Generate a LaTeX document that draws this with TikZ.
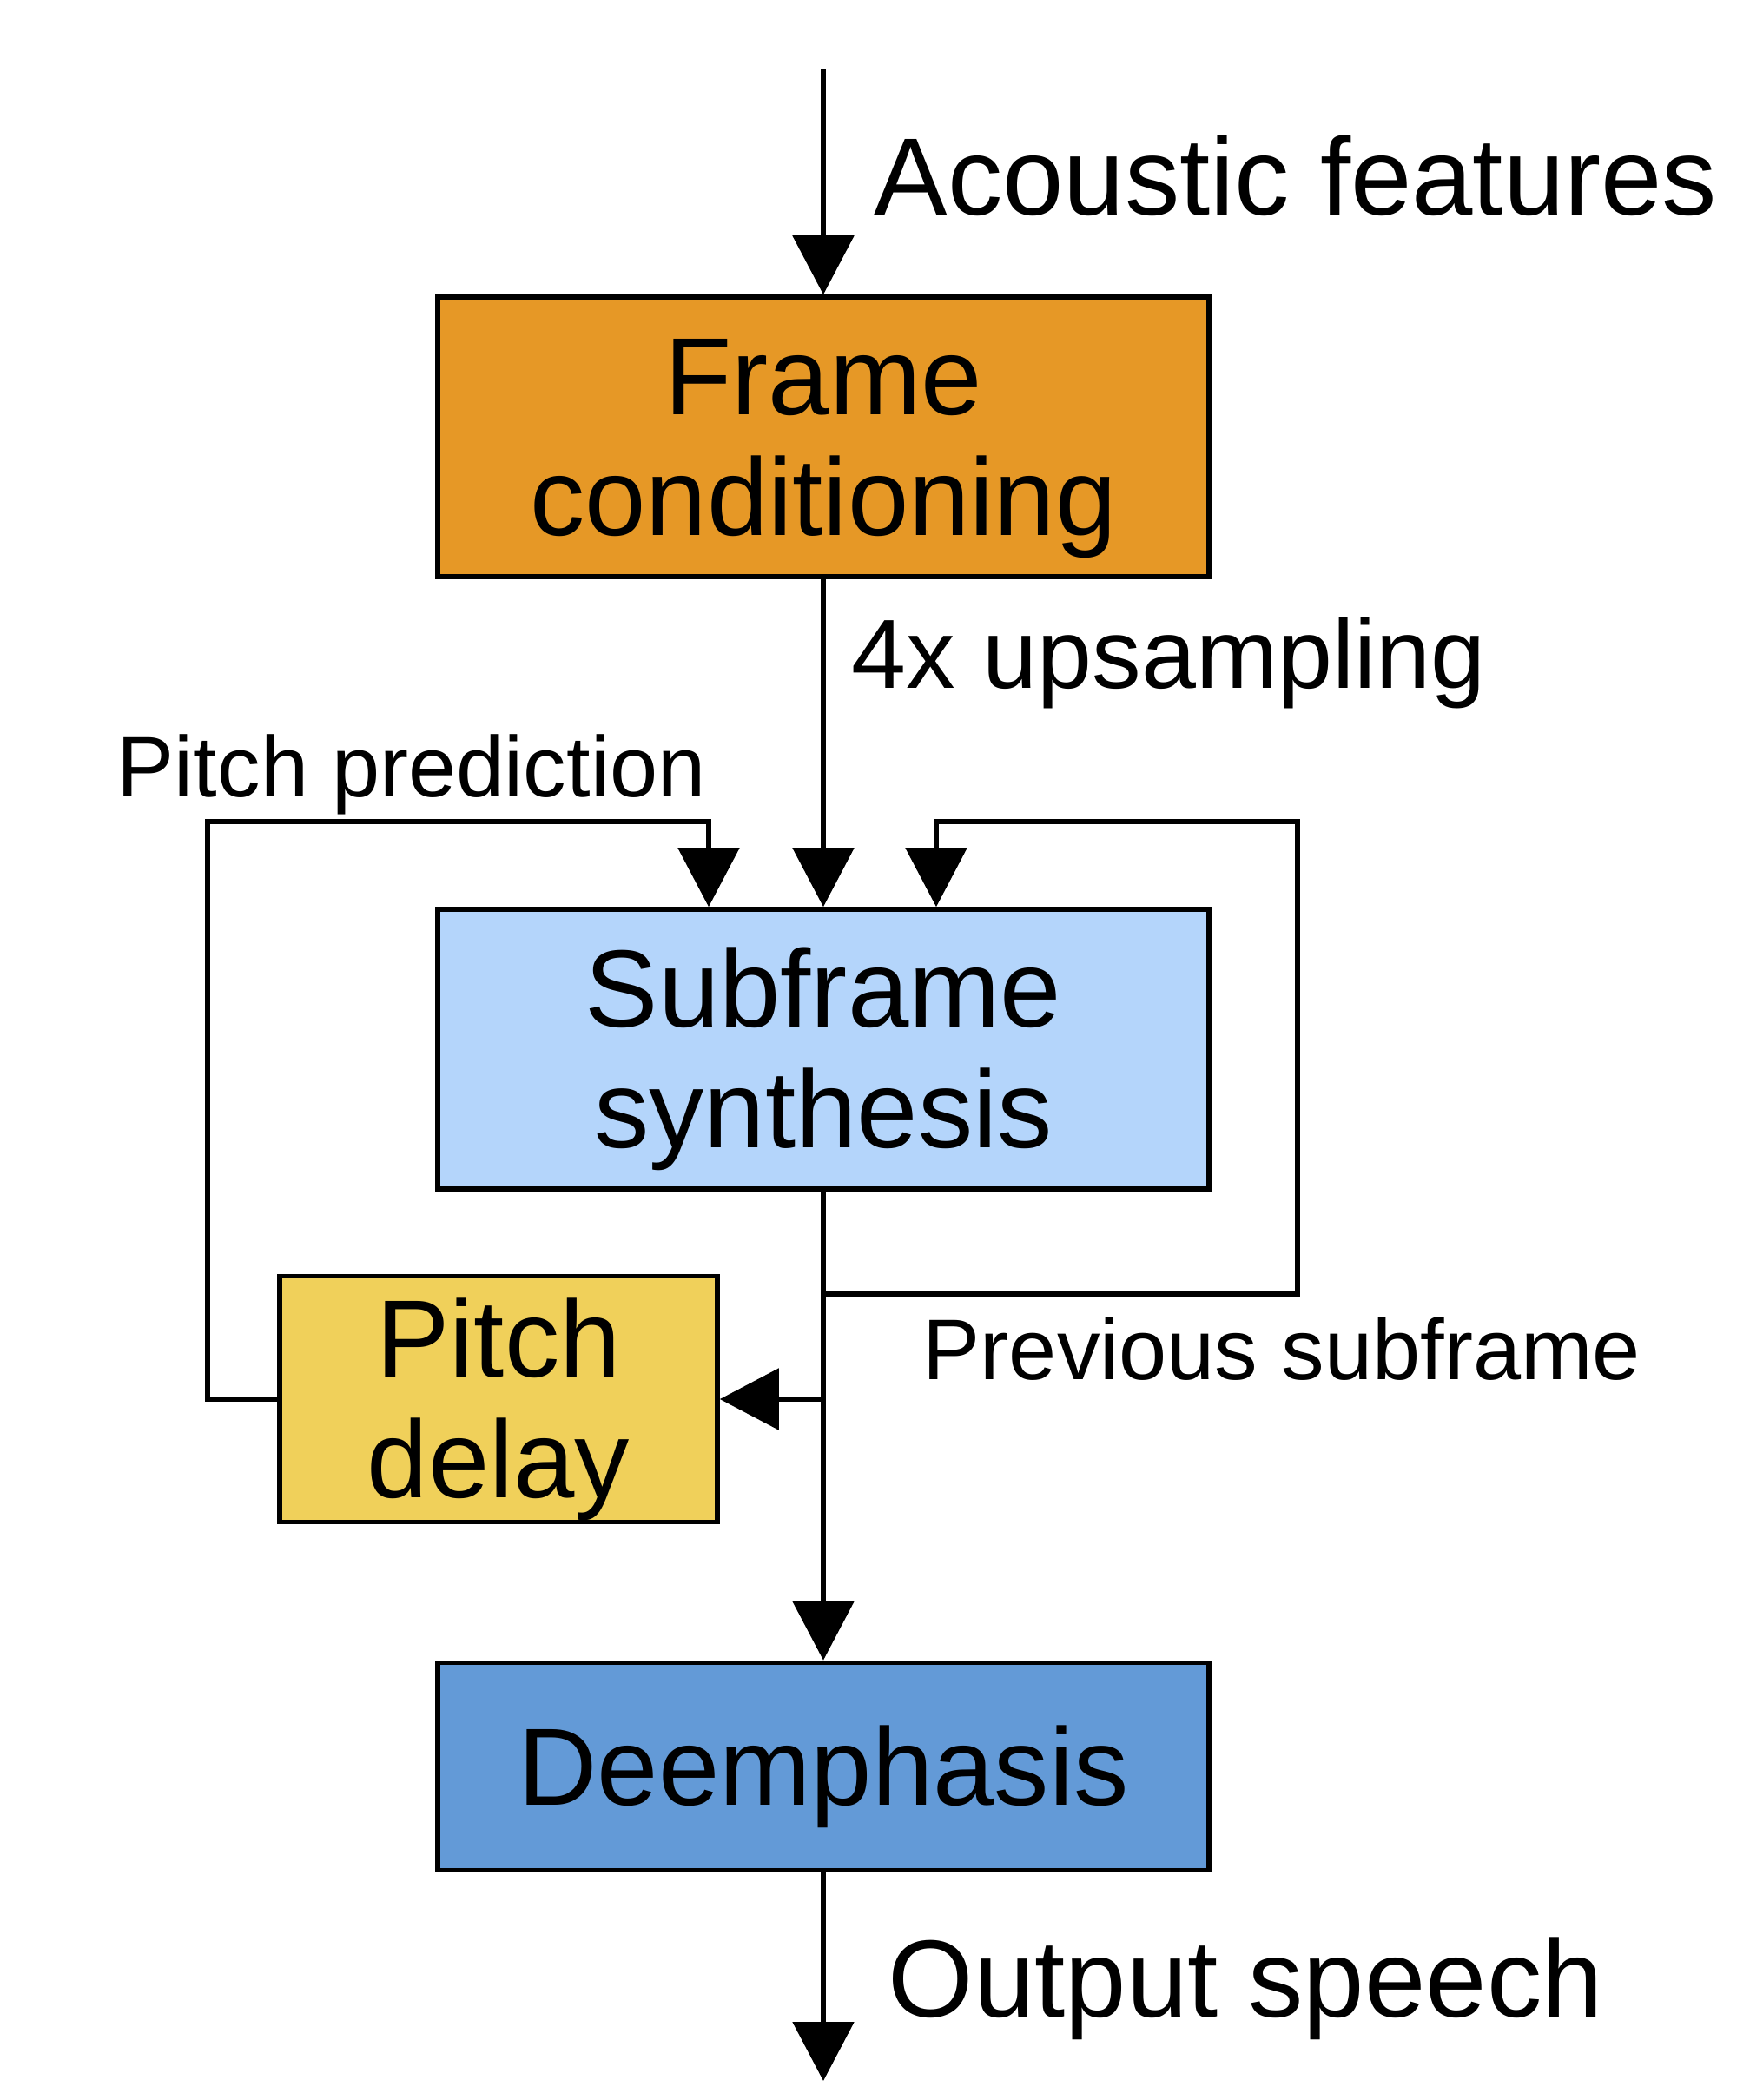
\documentclass[tikz,border=0pt]{standalone}
\usepackage{fontspec}
\setmainfont{Liberation Sans}
\usetikzlibrary{arrows.meta}

\definecolor{frameorange}{RGB}{230,152,38}
\definecolor{subblue}{RGB}{180,213,251}
\definecolor{pitchyellow}{RGB}{240,208,90}
\definecolor{deemblue}{RGB}{99,154,215}

\newcommand{\bigtext}{\fontsize{36}{39.5}\selectfont}
\newcommand{\midtext}{\fontsize{32.2}{36}\selectfont}
\newcommand{\smalltext}{\fontsize{28.2}{32}\selectfont}
\newcommand{\boxstrut}{\rule{0pt}{1.15cm}}

\begin{document}
\begin{tikzpicture}[line width=1.6pt]
      \tikzset{>={Triangle[length=0.68cm,width=0.7cm]}}
      \tikzset{block/.style={draw=black,line width=1.6pt,align=center,inner sep=0pt,font=\bigtext}}
      \tikzset{lbl/.style={anchor=base west,inner sep=0pt}}

      \useasboundingbox (0,0) rectangle (20.15,-24.18);

      \node[block,fill=frameorange,minimum width=8.88cm,minimum height=3.22cm] (FC) at (9.48,-5.03) {\boxstrut Frame\\conditioning};
      \node[block,fill=subblue,minimum width=8.88cm,minimum height=3.22cm] (SF) at (9.48,-12.08) {\boxstrut Subframe\\synthesis};
      \node[block,fill=pitchyellow,minimum width=5.04cm,minimum height=2.83cm] (PD) at (5.74,-16.11) {\boxstrut Pitch\\delay};
      \node[block,fill=deemblue,minimum width=8.88cm,minimum height=2.39cm] (DE) at (9.48,-20.34) {\boxstrut Deemphasis};

      \coordinate (In) at (9.48,-0.80);
      \coordinate (Out) at (9.48,-23.96);
      \coordinate (LeftTop) at (2.39,-9.46);
      \coordinate (RightTop) at (14.94,-9.46);
      \coordinate (Split) at (9.48,-14.90);
      \coordinate (Tap) at (9.48,-16.11);

      \node[lbl,font=\bigtext] (acoustic) at (10.04,-2.47) {Acoustic features};
      \node[lbl,font=\midtext] (upsampling) at (9.78,-7.92) {4x upsampling};
      \node[lbl,font=\smalltext] (prediction) at (1.32,-9.17) {Pitch prediction};
      \node[lbl,font=\smalltext] (previous) at (10.60,-15.88) {Previous subframe};
      \node[lbl,font=\bigtext] (speech) at (10.20,-23.22) {Output speech};

      \draw [->] (In) -- (FC);
      \draw [->] (FC) -- (SF);
      \draw [->] (PD.west) -| (LeftTop) -| ([xshift=-1.32cm]SF.north);
      \draw [->] (SF.south) -- (Split) -| (RightTop) -| ([xshift=1.30cm]SF.north);
      \draw [->] (SF) -- (DE);
      \draw [->] (Tap) -- (PD.east);
      \draw [->] (DE) -- (Out);
    \end{tikzpicture}
\end{document}
